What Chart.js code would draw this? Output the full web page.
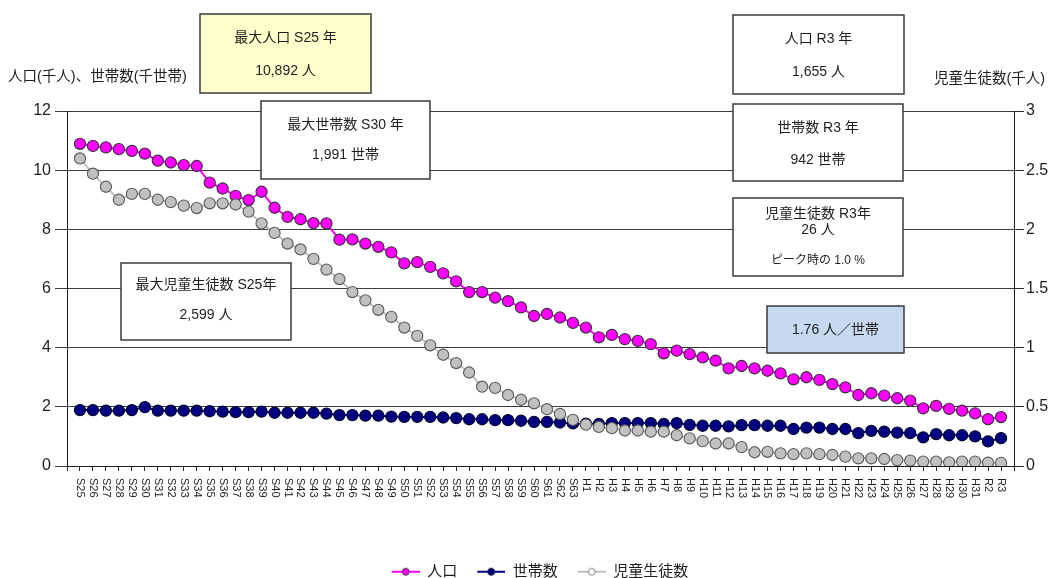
<!DOCTYPE html>
<html lang="ja">
<head>
<meta charset="utf-8">
<title>人口・世帯数・児童生徒数の推移</title>
<script src="https://cdn.jsdelivr.net/npm/chart.js@4/dist/chart.umd.min.js"></script>
<style>
  html, body { margin: 0; padding: 0; background: #fff; }
  #wrap { width: 1054px; height: 578px; position: relative; }
</style>
</head>
<body>
<div id="wrap"><canvas id="chart" width="1054" height="578"></canvas></div>
<script>
// 年次（昭和・平成・令和）
const categories = [
  'S25','S26','S27','S28','S29','S30','S31','S32','S33','S34',
  'S35','S36','S37','S38','S39','S40','S41','S42','S43','S44',
  'S45','S46','S47','S48','S49','S50','S51','S52','S53','S54',
  'S55','S56','S57','S58','S59','S60','S61','S62','S63',
  'H1','H2','H3','H4','H5','H6','H7','H8','H9','H10',
  'H11','H12','H13','H14','H15','H16','H17','H18','H19','H20',
  'H21','H22','H23','H24','H25','H26','H27','H28','H29','H30','H31',
  'R2','R3'
];

// 人口（千人）
const population = [
  10.892, 10.82, 10.77, 10.71, 10.65, 10.56, 10.32, 10.26, 10.17, 10.14,
  9.58, 9.38, 9.13, 8.99, 9.27, 8.73, 8.42, 8.34, 8.21, 8.20,
  7.65, 7.66, 7.52, 7.41, 7.22, 6.85, 6.89, 6.73, 6.51, 6.24,
  5.88, 5.88, 5.69, 5.57, 5.36, 5.07, 5.14, 5.02, 4.84,
  4.68, 4.35, 4.43, 4.29, 4.23, 4.12, 3.81, 3.90, 3.78, 3.67,
  3.56, 3.30, 3.38, 3.30, 3.22, 3.13, 2.93, 3.00, 2.91, 2.77,
  2.66, 2.40, 2.46, 2.38, 2.29, 2.21, 1.95, 2.03, 1.93, 1.87, 1.78,
  1.58, 1.655
];

// 世帯数（千世帯）
const households = [
  1.89, 1.89, 1.87, 1.87, 1.89, 1.991, 1.87, 1.87, 1.87, 1.87,
  1.85, 1.84, 1.82, 1.82, 1.84, 1.80, 1.80, 1.80, 1.80, 1.77,
  1.72, 1.72, 1.70, 1.70, 1.67, 1.66, 1.66, 1.66, 1.64, 1.62,
  1.58, 1.58, 1.55, 1.55, 1.53, 1.49, 1.49, 1.47, 1.44,
  1.43, 1.42, 1.45, 1.45, 1.45, 1.45, 1.42, 1.45, 1.39, 1.36,
  1.36, 1.34, 1.38, 1.38, 1.36, 1.36, 1.25, 1.30, 1.30, 1.25,
  1.25, 1.11, 1.19, 1.16, 1.13, 1.11, 0.97, 1.08, 1.04, 1.04, 1.00,
  0.83, 0.942
];

// 児童生徒数（千人）
const students = [
  2.599, 2.47, 2.36, 2.25, 2.30, 2.30, 2.25, 2.23, 2.20, 2.18,
  2.22, 2.22, 2.21, 2.15, 2.05, 1.97, 1.88, 1.83, 1.75, 1.66,
  1.58, 1.47, 1.40, 1.32, 1.26, 1.17, 1.10, 1.02, 0.94, 0.87,
  0.79, 0.67, 0.66, 0.60, 0.56, 0.53, 0.48, 0.44, 0.39,
  0.35, 0.33, 0.32, 0.30, 0.30, 0.29, 0.29, 0.26, 0.234, 0.21,
  0.19, 0.19, 0.16, 0.116, 0.12, 0.107, 0.10, 0.107, 0.10, 0.093,
  0.079, 0.065, 0.065, 0.059, 0.05, 0.045, 0.037, 0.037, 0.031, 0.037, 0.037,
  0.028, 0.026
];

const seriesNames = ['人口', '世帯数', '児童生徒数'];
const leftAxisRange = [0, 12];   // 人口・世帯数（千）
const rightAxisRange = [0, 3];   // 児童生徒数（千人）

const JP = "'Liberation Sans', 'Noto Sans CJK JP', sans-serif";
const INK = '#1e1e1e';

// 両端に空きの区切りを置いて、軸の内側に点を並べる
const labels = ['', ...categories, ''];
const padded = arr => [null, ...arr, null];

// 凡例用の「線＋マーカー」アイコン
function legendIcon(line, fill, stroke) {
  const c = document.createElement('canvas');
  c.width = 38; c.height = 12;
  const g = c.getContext('2d');
  g.strokeStyle = line; g.lineWidth = 2;
  g.beginPath(); g.moveTo(10, 6); g.lineTo(38, 6); g.stroke();
  g.beginPath(); g.arc(24, 6, 3.4, 0, Math.PI * 2);
  g.fillStyle = fill; g.fill();
  g.strokeStyle = stroke; g.lineWidth = 1; g.stroke();
  return c;
}
const icons = [
  legendIcon('#ff00ff', '#ff00ff', '#333333'),
  legendIcon('#000080', '#000080', '#000033'),
  legendIcon('#c0c0c0', '#ffffff', '#808080')
];

// 横軸ラベルを時計回りに回して、目盛の直下から読み下す
const clockwiseTicks = {
  id: 'clockwiseTicks',
  afterLayout(chart) {
    const s = chart.scales.x;
    if (!s || s.__cw) return;
    const base = s._computeLabelItems;
    s._computeLabelItems = function (area) {
      const items = base.call(this, area);
      for (const it of items) {
        it.options.rotation = Math.PI / 2;
        it.options.textAlign = 'left';
        it.textOffset = -it.textOffset;
      }
      return items;
    };
    s._labelItems = null;
    s.__cw = true;
  }
};

const thousands = v => Math.round(v * 1000).toLocaleString('en-US');
const last = categories.length - 1;
const peakHH = households.indexOf(Math.max(...households));
const perHousehold = (population[last] / households[last]).toFixed(2);
const ofPeak = (students[last] / Math.max(...students) * 100).toFixed(1);

// 注記ボックス
const notes = [
  { x: 200, y: 14, w: 171, h: 79, fill: '#ffffcc',
    lines: [['最大人口 ' + categories[0] + ' 年', 38], [thousands(population[0]) + ' 人', 71]] },
  { x: 261, y: 101, w: 169, h: 78, fill: '#ffffff',
    lines: [['最大世帯数 ' + categories[peakHH] + ' 年', 125], [thousands(households[peakHH]) + ' 世帯', 155]] },
  { x: 733, y: 15, w: 171, h: 79, fill: '#ffffff',
    lines: [['人口 ' + categories[last] + ' 年', 39], [thousands(population[last]) + ' 人', 72]] },
  { x: 733, y: 104, w: 170, h: 77, fill: '#ffffff',
    lines: [['世帯数 ' + categories[last] + ' 年', 128], [thousands(households[last]) + ' 世帯', 160]] },
  { x: 733, y: 198, w: 170, h: 78, fill: '#ffffff',
    lines: [['児童生徒数 ' + categories[last] + '年', 214], [thousands(students[last]) + ' 人', 230],
            ['ピーク時の ' + ofPeak + ' %', 261, 12]] },
  { x: 121, y: 263, w: 170, h: 77, fill: '#ffffff',
    lines: [['最大児童生徒数 ' + categories[0] + '年', 285], [thousands(students[0]) + ' 人', 315]] },
  { x: 767, y: 306, w: 137, h: 47, fill: '#c6d9f1',
    lines: [[perHousehold + ' 人／世帯', 330]] }
];

const annotations = {
  id: 'annotations',
  afterDraw(chart) {
    const ctx = chart.ctx;
    ctx.save();
    // 軸の見出し
    ctx.fillStyle = INK;
    ctx.textBaseline = 'middle';
    ctx.font = '14.5px ' + JP;
    ctx.textAlign = 'left';
    ctx.fillText('人口(千人)、世帯数(千世帯)', 8, 77);
    ctx.fillText('児童生徒数(千人)', 934, 79);
    // 注記ボックス
    for (const n of notes) {
      ctx.fillStyle = n.fill;
      ctx.fillRect(n.x, n.y, n.w, n.h);
      ctx.strokeStyle = '#3a3a3a';
      ctx.lineWidth = 1.5;
      ctx.strokeRect(n.x, n.y, n.w, n.h);
      ctx.fillStyle = INK;
      ctx.textAlign = 'center';
      for (const [text, ty, size] of n.lines) {
        ctx.font = (size || 14) + 'px ' + JP;
        ctx.fillText(text, n.x + n.w / 2, ty);
      }
    }
    ctx.restore();
  }
};

const plainNumber = v => String(Math.round(v * 100) / 100);

new Chart(document.getElementById('chart'), {
  type: 'line',
  data: {
    labels,
    datasets: [
      {
        label: seriesNames[0], data: padded(population), yAxisID: 'y', order: 2,
        borderColor: '#ff00ff', borderWidth: 2,
        pointRadius: 5.6, pointBackgroundColor: '#ff00ff',
        pointBorderColor: '#333333', pointBorderWidth: 1.1
      },
      {
        label: seriesNames[1], data: padded(households), yAxisID: 'y', order: 1,
        borderColor: '#000080', borderWidth: 2,
        pointRadius: 5.6, pointBackgroundColor: '#000080',
        pointBorderColor: '#00002a', pointBorderWidth: 1.1
      },
      {
        label: seriesNames[2], data: padded(students), yAxisID: 'y2', order: 0,
        borderColor: '#c0c0c0', borderWidth: 2,
        pointRadius: 5.6, pointBackgroundColor: '#c0c0c0',
        pointBorderColor: '#5a5a5a', pointBorderWidth: 1.1
      }
    ]
  },
  options: {
    responsive: false,
    animation: false,
    devicePixelRatio: 1,
    spanGaps: false,
    layout: { padding: { top: 111, left: 16, right: 0, bottom: -11.2 } },
    plugins: {
      tooltip: { enabled: false },
      legend: {
        position: 'bottom',
        labels: {
          font: { family: JP, size: 15 },
          color: INK,
          padding: 10,
          usePointStyle: true,
          pointStyleWidth: 38,
          generateLabels: chart => chart.data.datasets.map((ds, i) => ({
            text: ds.label,
            pointStyle: icons[i],
            fillStyle: ds.borderColor,
            strokeStyle: ds.borderColor,
            lineWidth: 0,
            hidden: false,
            datasetIndex: i,
            fontColor: INK
          }))
        }
      }
    },
    scales: {
      x: {
        type: 'category',
        offset: false,
        grid: { drawOnChartArea: false, drawTicks: true, tickLength: 5, color: '#2a2a2a' },
        border: { display: true, color: '#1a1a1a', width: 1 },
        ticks: {
          autoSkip: false, maxRotation: 90, minRotation: 90, padding: 7,
          font: { family: "'Liberation Sans', sans-serif", size: 11 }, color: INK
        },
        afterFit: s => { s.height = 88.2; }
      },
      y: {
        position: 'left',
        min: leftAxisRange[0], max: leftAxisRange[1],
        ticks: { stepSize: 2, padding: 4, callback: plainNumber,
                 font: { family: "'Liberation Sans', sans-serif", size: 16 }, color: INK },
        grid: { color: '#3c3c3c', lineWidth: 1, tickLength: 12 },
        border: { display: true, color: '#1a1a1a', width: 1 },
        afterFit: s => { s.width = 51; }
      },
      y2: {
        position: 'right',
        min: rightAxisRange[0], max: rightAxisRange[1],
        ticks: { stepSize: 0.5, padding: 2, callback: plainNumber,
                 font: { family: "'Liberation Sans', sans-serif", size: 16 }, color: INK },
        grid: { drawOnChartArea: false, tickLength: 10, color: '#2a2a2a' },
        border: { display: true, color: '#1a1a1a', width: 1 },
        afterFit: s => { s.width = 40; }
      }
    }
  },
  plugins: [clockwiseTicks, annotations]
});
</script>
</body>
</html>
